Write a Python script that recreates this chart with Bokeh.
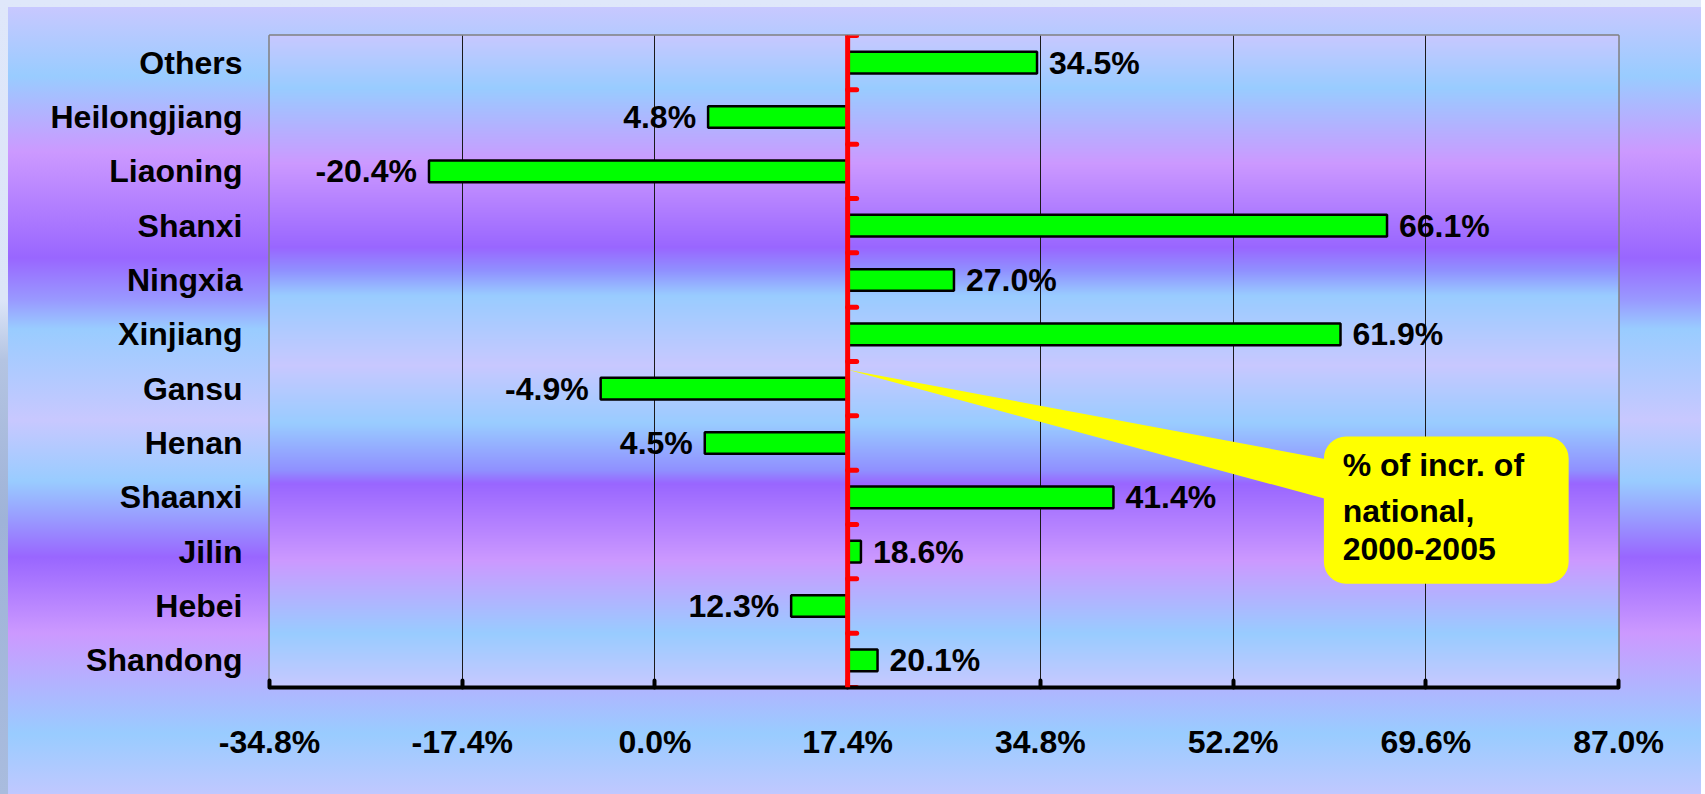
import numpy as np
from bokeh.plotting import figure
from bokeh.models import (Range1d, FixedTicker, PrintfTickFormatter, Span, BoxAnnotation,
                          PolyAnnotation, ColumnDataSource, InlineStyleSheet, Label)
from bokeh.core.properties import value
from bokeh.embed import file_html
from bokeh.resources import INLINE

# ---------------- data ----------------
regions = ["Shandong", "Hebei", "Jilin", "Shaanxi", "Henan", "Gansu",
           "Xinjiang", "Ningxia", "Shanxi", "Liaoning", "Heilongjiang", "Others"]
incr_share = [20.1, 12.3, 18.6, 41.4, 4.5, -4.9, 61.9, 27.0, 66.1, -20.4, 4.8, 34.5]
national = 17.4
x_ticks = [-34.8, -17.4, 0.0, 17.4, 34.8, 52.2, 69.6, 87.0]
callout_lines = ["% of incr. of", "national,", "2000-2005"]

FONT = "Liberation Sans"
FS = "32px"
W, H = 1701, 794

# background gradient stops (style only)
frame_stops = [0, 53, 128, 212, 235, 260, 330, 388, 435, 448, 525, 598, 652]
frame_cols = ["#c8c8ff", "#99ccff", "#cc99ff", "#9966ff", "#9090ff", "#99ccff", "#c8c8ff",
              "#99ccff", "#9090ff", "#9966ff", "#cc99ff", "#99ccff", "#c8c8ff"]
outer_stops = [0, 69, 145, 251, 293, 322, 413, 474, 513, 550, 626, 727, 787]
outer_cols = ["#c8c8ff", "#99ccff", "#cc99ff", "#9966ff", "#9999ff", "#99ccff", "#c8c8ff",
              "#99ccff", "#9999ff", "#9966ff", "#cc99ff", "#99ccff", "#c0c8ff"]

n = len(regions)
p = figure(width=W, height=H, output_backend="svg", toolbar_location=None,
           x_range=Range1d(x_ticks[0], x_ticks[-1]), y_range=Range1d(-0.5, n - 0.5),
           min_border_left=269, min_border_right=83, min_border_top=35, min_border_bottom=107)

panel = "linear-gradient(to bottom, " + ", ".join(
    f"{c} {s}px" for s, c in zip(outer_stops, outer_cols)) + ") 8px 7px / 1693px 787px no-repeat"
backdrop = ("linear-gradient(to bottom, #dfe7fa 0px, #dce5f8 300px, #b4c4e2 360px, "
            "#9fb3d8 520px, #a9bcde 794px)")
css = ":host { background: " + panel + ", " + backdrop + "; }"
p.stylesheets = [InlineStyleSheet(css=css)]
p.border_fill_alpha = 0
p.background_fill_alpha = 0

# plot-area gradient image
nr = frame_stops[-1]
t = np.arange(nr) + 0.5
chan = [np.interp(t, frame_stops, [int(c[1 + 2 * k:3 + 2 * k], 16) for c in frame_cols]) for k in range(3)]
img = np.empty((nr, 2), dtype=np.uint32)
v8 = img.view(dtype=np.uint8).reshape((nr, 2, 4))
for k in range(3):
    v8[:, :, k] = np.round(chan[k])[:, None].astype(np.uint8)
v8[:, :, 3] = 255
img = img[::-1].copy()
p.image_rgba(image=[img], x=x_ticks[0], y=-0.5, dw=x_ticks[-1] - x_ticks[0], dh=n, level="image")

# grid / axes
p.xaxis.ticker = FixedTicker(ticks=x_ticks)
p.xaxis.formatter = PrintfTickFormatter(format="%.1f%%")
p.xgrid.grid_line_color = "#1a1a1a"
p.xgrid.grid_line_width = 1
p.ygrid.visible = False
p.outline_line_color = "#808080"
p.outline_line_width = 2.5

xa = p.xaxis[0]
xa.axis_line_color = "black"
xa.axis_line_width = 4
xa.major_tick_in = 7
xa.major_tick_out = 0
xa.major_tick_line_width = 4
xa.major_tick_line_cap = "round"
xa.minor_tick_line_color = None
xa.major_label_standoff = 36
xa.major_label_text_font = FONT
xa.major_label_text_font_style = "bold"
xa.major_label_text_font_size = FS
xa.major_label_text_color = "black"

ya = p.yaxis[0]
ya.ticker = FixedTicker(ticks=list(range(n)))
ya.major_label_overrides = {i: r for i, r in enumerate(regions)}
ya.axis_line_color = None
ya.major_tick_line_color = None
ya.minor_tick_line_color = None
ya.major_tick_in = 0
ya.major_tick_out = 0
ya.major_label_standoff = 27
ya.major_label_text_font = FONT
ya.major_label_text_font_style = "bold"
ya.major_label_text_font_size = FS
ya.major_label_text_color = "black"

# bars
src = ColumnDataSource(dict(
    y=list(range(n)),
    left=[national] * n,
    right=incr_share,
    label=[f"{v:.1f}%" for v in incr_share],
    xoff=[12 if v >= national else -12 for v in incr_share],
    align=["left" if v >= national else "right" for v in incr_share],
))
p.hbar(y="y", left="left", right="right", height=0.40, fill_color="#00ff00",
       line_color="black", line_width=2.5, source=src)
p.text(x="right", y="y", text="label", x_offset="xoff", text_align="align",
       text_baseline="middle", text_font=value(FONT), text_font_style="bold",
       text_font_size=FS, text_color="black", source=src)

# red national line with ticks at category boundaries
bounds = [i - 0.5 for i in range(n + 1)]
p.ray(x=[national] * len(bounds), y=bounds, length=9, length_units="screen", angle=0,
      line_color="red", line_width=5, line_cap="round")

# callout
tip_y = 5.35
wedge = PolyAnnotation(xs=[national, 63.0, 63.0], ys=[tip_y, 3.611, 2.837],
                       fill_color="#ffff00", fill_alpha=1, line_color=None)
p.add_layout(wedge)
box = BoxAnnotation(left=60.4, right=82.5, bottom=1.41, top=4.12, fill_color="#ffff00",
                    fill_alpha=1, line_color=None, border_radius=22)
p.add_layout(box)
p.add_layout(Span(location=national, dimension="height", line_color="red", line_width=5))
for line, yy in zip(callout_lines, [3.586, 2.757, 2.058]):
    p.add_layout(Label(x=62.1, y=yy, text=line, text_align="left", text_baseline="middle",
                       text_font=FONT, text_font_style="bold", text_font_size=FS,
                       text_color="black"))

open("out.html", "w").write(file_html(p, INLINE))
